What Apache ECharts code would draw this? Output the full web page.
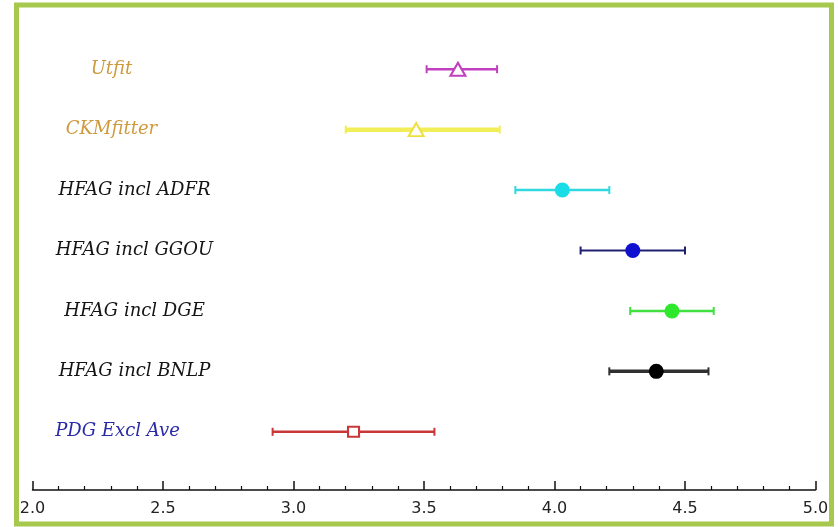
<!DOCTYPE html>
<html>
<head>
<meta charset="utf-8">
<script src="https://cdn.jsdelivr.net/npm/echarts@6/dist/echarts.min.js"></script>
<style>
html,body{margin:0;padding:0;background:#fff;}
#c{width:838px;height:527px;}
</style>
</head>
<body>
<div id="c"></div>
<script>
var names = ['Utfit', 'CKMfitter', 'HFAG incl ADFR', 'HFAG incl GGOU', 'HFAG incl DGE', 'HFAG incl BNLP', 'PDG Excl Ave'];
var centers = [3.63, 3.47, 4.03, 4.30, 4.45, 4.39, 3.23];
var lows = [3.51, 3.20, 3.85, 4.10, 4.29, 4.21, 2.92];
var highs = [3.78, 3.79, 4.21, 4.50, 4.61, 4.59, 3.54];
var xTicks = [2.0, 2.5, 3.0, 3.5, 4.0, 4.5, 5.0];

// styling (kept separate from data)
var barColors = ['#c040c0', '#f2ee58', '#30d8e0', '#202070', '#40e040', '#303030', '#c83838'];
var barWidths = [2.5, 4.5, 2.5, 2, 2.5, 3.5, 2.5];
var markerColors = ['#c040c0', '#eee040', '#18dde6', '#1010d0', '#2ee82e', '#000000', '#c83838'];
var markerSymbols = ['emptyTriangle', 'emptyTriangle', 'circle', 'circle', 'circle', 'circle', 'emptyRect'];
var markerSizes = [[15, 13], [15, 13], 15, 15, 15, 15, [11, 10]];
var labelStyles = ['orange', 'orange', 'black', 'black', 'black', 'black', 'blue'];

var chart = echarts.init(document.getElementById('c'), null, {renderer: 'canvas'});

var errData = names.map(function (n, i) { return [lows[i], highs[i], i]; });
var ptData = names.map(function (n, i) {
  return {
    value: [centers[i], i],
    symbol: markerSymbols[i],
    symbolSize: markerSizes[i],
    itemStyle: {
      color: markerColors[i],
      borderColor: markerColors[i],
      borderWidth: markerSymbols[i].indexOf('empty') === 0 ? 1.6 : 0,
      opacity: 1
    }
  };
});

var option = {
  backgroundColor: '#ffffff',
  animation: false,
  graphic: [{
    type: 'rect',
    shape: {x: 16.5, y: 5, width: 815, height: 519},
    style: {fill: 'none', stroke: '#a6c84c', lineWidth: 5},
    z: 100
  }],
  grid: {left: 32.5, right: 22.5, top: 39, bottom: 65},
  xAxis: {
    type: 'value',
    min: 2,
    max: 5,
    interval: 0.5,
    offset: 28,
    axisLine: {show: true, lineStyle: {color: '#111', width: 1.5}},
    axisTick: {show: true, inside: true, length: 9, lineStyle: {color: '#111', width: 1.5}},
    minorTick: {show: true, splitNumber: 5, length: 4, lineStyle: {color: '#111', width: 1.2}},
    splitLine: {show: false},
    minorSplitLine: {show: false},
    axisLabel: {
      margin: 11,
      color: '#222',
      fontFamily: 'DejaVu Sans',
      fontSize: 16,
      formatter: function (v) {
        for (var k = 0; k < xTicks.length; k++) {
          if (Math.abs(xTicks[k] - v) < 1e-9) return xTicks[k].toFixed(1);
        }
        return '';
      }
    }
  },
  yAxis: {
    type: 'category',
    data: names,
    inverse: true,
    axisLine: {show: false},
    axisTick: {show: false},
    splitLine: {show: false},
    axisLabel: {
      inside: true,
      align: 'center',
      margin: 102,
      formatter: function (v, idx) {
        return '{' + labelStyles[idx] + '|' + v + '}';
      },
      rich: {
        orange: {color: '#cf9a3e', fontFamily: 'DejaVu Serif', fontStyle: 'italic', fontSize: 18, padding: [0, 46, 0, 0]},
        black: {color: '#141414', fontFamily: 'DejaVu Serif', fontStyle: 'italic', fontSize: 18},
        blue: {color: '#2a2aa8', fontFamily: 'DejaVu Serif', fontStyle: 'italic', fontSize: 18, padding: [0, 34, 0, 0]}
      }
    }
  },
  series: [
    {
      type: 'custom',
      data: errData,
      encode: {x: [0, 1], y: 2},
      renderItem: function (params, api) {
        var i = api.value(2);
        var p1 = api.coord([api.value(0), i]);
        var p2 = api.coord([api.value(1), i]);
        var capH = 4;
        var st = {stroke: barColors[i], lineWidth: barWidths[i]};
        return {
          type: 'group',
          children: [
            {type: 'line', shape: {x1: p1[0], y1: p1[1], x2: p2[0], y2: p2[1]}, style: st},
            {type: 'line', shape: {x1: p1[0], y1: p1[1] - capH, x2: p1[0], y2: p1[1] + capH}, style: {stroke: barColors[i], lineWidth: 2}},
            {type: 'line', shape: {x1: p2[0], y1: p2[1] - capH, x2: p2[0], y2: p2[1] + capH}, style: {stroke: barColors[i], lineWidth: 2}}
          ]
        };
      },
      z: 2
    },
    {
      type: 'scatter',
      data: ptData,
      z: 3
    }
  ]
};
chart.setOption(option);
</script>
</body>
</html>
